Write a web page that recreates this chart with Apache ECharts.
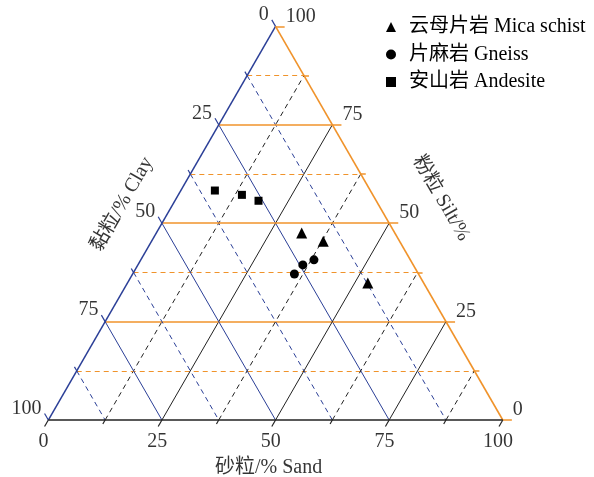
<!DOCTYPE html>
<html><head><meta charset="utf-8">
<script src="https://cdn.jsdelivr.net/npm/echarts@6/dist/echarts.min.js"></script>
<style>html,body{margin:0;padding:0;background:#fff}#c{width:594px;height:477px}</style>
</head><body><div id="c"></div>
<script>
// ---- data: each row is [sand %, silt %, clay %]
var seriesNames = ['云母片岩 Mica schist', '片麻岩 Gneiss', '安山岩 Andesite'];
var micaSchist = [[32.0, 47.5, 20.5], [37.8, 45.4, 16.8], [52.9, 34.8, 12.3]];
var gneiss = [[38.1, 40.7, 21.2], [36.3, 39.4, 24.3], [35.6, 37.1, 27.3]];
var andesite = [[7.5, 58.3, 34.2], [14.0, 57.2, 28.8], [18.4, 55.7, 25.9]];
var sandTicks = [0, 25, 50, 75, 100];
var clayTicks = [0, 25, 50, 75, 100];
var siltTicks = [0, 25, 50, 75, 100];
var gridValues = [0, 12.5, 25, 37.5, 50, 62.5, 75, 87.5, 100];
var axisTitles = { sand: '砂粒/% Sand', clay: '黏粒/% Clay', silt: '粉粒 Silt/%' };

var BLUE = '#2B3F97', ORANGE = '#F0932B', BLACK = '#222222';
var FONT = '"Liberation Serif", "Noto Sans CJK SC", serif';

function pt(sand, silt) { return [sand + silt / 2, silt]; }
function isMajor(v) { return v % 25 === 0; }

var lineData = [];
function seg(a, b, color, major, w) {
  lineData.push({ coords: [a, b], lineStyle: { color: color, width: w || 1, type: major ? 'solid' : [5, 4], opacity: 1 } });
}
gridValues.forEach(function (v) {
  var major = isMajor(v);
  var t = major ? 1.65 : 1.0;
  // constant clay (blue)
  var c = v;
  if (c > 0 && c < 100) seg(pt(0, 100 - c), pt(100 - c, 0), BLUE, major);
  seg(pt(0, 100 - c), pt(-t, 100 - c + t), BLUE, true, 1.2);
  // constant sand (black)
  var s = v;
  if (s > 0 && s < 100) seg(pt(s, 0), pt(s, 100 - s), BLACK, major);
  seg(pt(s, 0), pt(s, -t), BLACK, true, 1.2);
  // constant silt (orange)
  var si = v;
  var e = major ? 2.0 : 1.1;
  var endR = pt(100 - si, si);
  if (si > 0 && si < 100) seg(pt(0, si), endR, ORANGE, major, major ? 1.5 : 1.2);
  seg(endR, [endR[0] + e, si], ORANGE, major, 1.5);
});
// triangle edges
seg(pt(0, 0), pt(0, 100), BLUE, true, 1.5);
seg(pt(0, 100), pt(100, 0), ORANGE, true, 1.6);
seg(pt(0, 0), pt(100, 0), BLACK, true, 1.6);

function toPts(rows) { return rows.map(function (r) { return pt(r[0], r[1]); }); }

var labelBase = { show: true, color: '#000', fontSize: 20, fontFamily: FONT };
var tickLabels = [];
function addLabel(p, text, align, offset, rotate) {
  tickLabels.push({ value: p, label: Object.assign({}, labelBase, { formatter: text, position: 'inside', align: align, verticalAlign: 'middle', offset: offset, rotate: rotate || 0 }) });
}
sandTicks.forEach(function (v) { addLabel(pt(v, -1.65), String(v), 'center', [-1, 15]); });
clayTicks.forEach(function (v) { addLabel(pt(-1.65, 100 - v + 1.65), String(v), 'right', [-3, -5]); });
siltTicks.forEach(function (v) { var p = pt(100 - v, v); addLabel([p[0] + 2.0, p[1]], String(v), 'left', [1, -10]); });
addLabel(pt(50, 0), axisTitles.sand, 'center', [-7, 48]);
addLabel(pt(0, 50), axisTitles.clay, 'center', [-3.5, -44], 60);
addLabel(pt(50, 50), axisTitles.silt, 'center', [4.4, -57.5], -60);

var chart = echarts.init(document.getElementById('c'), null, { renderer: 'canvas' });
chart.setOption({
  animation: false,
  backgroundColor: '#fff',
  grid: { left: 25.6, top: 6.7, width: 499.9, height: 433.0 },
  xAxis: { type: 'value', min: -5, max: 105, show: false },
  yAxis: { type: 'value', min: -5, max: 105, show: false },
  legend: {
    orient: 'vertical', left: 381, top: 12, itemGap: 7.5, itemWidth: 10, itemHeight: 10,
    data: seriesNames,
    textStyle: { fontSize: 20, fontFamily: FONT, color: '#000', padding: [0, 0, 0, 8] }
  },
  series: [
    { type: 'lines', coordinateSystem: 'cartesian2d', polyline: false, silent: true, clip: false, z: 1, data: lineData },
    { type: 'scatter', silent: true, symbolSize: 1, itemStyle: { color: 'rgba(0,0,0,0)' }, z: 3, data: tickLabels },
    { name: seriesNames[0], type: 'scatter', symbol: 'triangle', symbolSize: 11, itemStyle: { color: '#000', opacity: 1 }, z: 5, data: toPts(micaSchist) },
    { name: seriesNames[1], type: 'scatter', symbol: 'circle', symbolSize: 9, itemStyle: { color: '#000', opacity: 1 }, z: 5, data: toPts(gneiss) },
    { name: seriesNames[2], type: 'scatter', symbol: 'rect', symbolSize: 8, itemStyle: { color: '#000', opacity: 1 }, z: 5, data: toPts(andesite) }
  ]
});
</script></body></html>
